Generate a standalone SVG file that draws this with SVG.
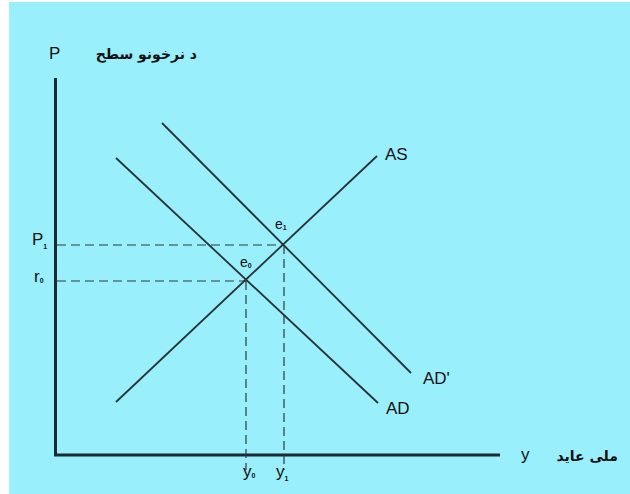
<svg xmlns="http://www.w3.org/2000/svg" width="630" height="494" viewBox="0 0 630 494">
<style>
.ax{stroke:#1a2a2e;stroke-width:3;fill:none}
.cv{stroke:#263436;stroke-width:1.8;fill:none}
.ds{stroke:#2a3a3c;stroke-width:1.2;stroke-dasharray:9 5;fill:none}
.lb{font-family:"Liberation Sans",Arial,sans-serif;font-size:17px;fill:#111}
.sm{font-family:"Liberation Sans",Arial,sans-serif;font-size:14px;fill:#111}
.sb{font-family:"Liberation Sans",Arial,sans-serif;font-size:7px;fill:#111;font-weight:bold}
.ar{font-family:"DejaVu Sans","Noto Sans",sans-serif;font-size:14px;font-weight:bold;fill:#111}
</style>
<rect x="0" y="0" width="630" height="494" fill="#ffffff"/>
<rect x="9" y="2" width="621" height="492" fill="#9AEFFD"/>
<g id="axes">
<line class="ax" x1="55.5" y1="78" x2="55.5" y2="455"/>
<line class="ax" x1="54" y1="455" x2="500" y2="455"/>
</g>
<g id="connectors">
<line class="ds" x1="57" y1="245" x2="284" y2="245"/>
<line class="ds" x1="57" y1="281" x2="246" y2="281"/>
<line class="ds" x1="246" y1="281" x2="246" y2="470"/>
<line class="ds" x1="284" y1="245" x2="284" y2="470"/>
</g>
<g id="AS"><line class="cv" x1="116" y1="402" x2="377" y2="156"/><text class="lb" x="385" y="160">AS</text></g>
<g id="AD"><line class="cv" x1="116" y1="158" x2="378" y2="403"/><text class="lb" x="386" y="414">AD</text></g>
<g id="ADp"><line class="cv" x1="162" y1="123" x2="411" y2="373"/><text class="lb" x="423" y="384">AD'</text></g>
<g id="e1"><text class="sm" x="275" y="229">e<tspan class="sb" dy="1">1</tspan></text></g>
<g id="e0"><text class="sm" x="240" y="267">e<tspan class="sb" dy="1">0</tspan></text></g>
<g id="P1"><text class="lb" x="32" y="245">P<tspan class="sb" dy="4">1</tspan></text></g>
<g id="r0"><text class="lb" x="34" y="282">r<tspan class="sb" dy="1">0</tspan></text></g>
<g id="y0"><text class="lb" x="243" y="477">y<tspan class="sb" dy="1">0</tspan></text></g>
<g id="y1"><text class="lb" x="276" y="477">y<tspan class="sb" dy="4">1</tspan></text></g>
<g id="Plabel"><text class="lb" x="49" y="59">P</text><text class="ar" x="197" y="59" text-anchor="end">د نرخونو سطح</text></g>
<g id="ylabel"><text class="lb" x="521" y="460">y</text><text class="ar" x="618" y="461" text-anchor="end">ملی عاید</text></g>
</svg>
